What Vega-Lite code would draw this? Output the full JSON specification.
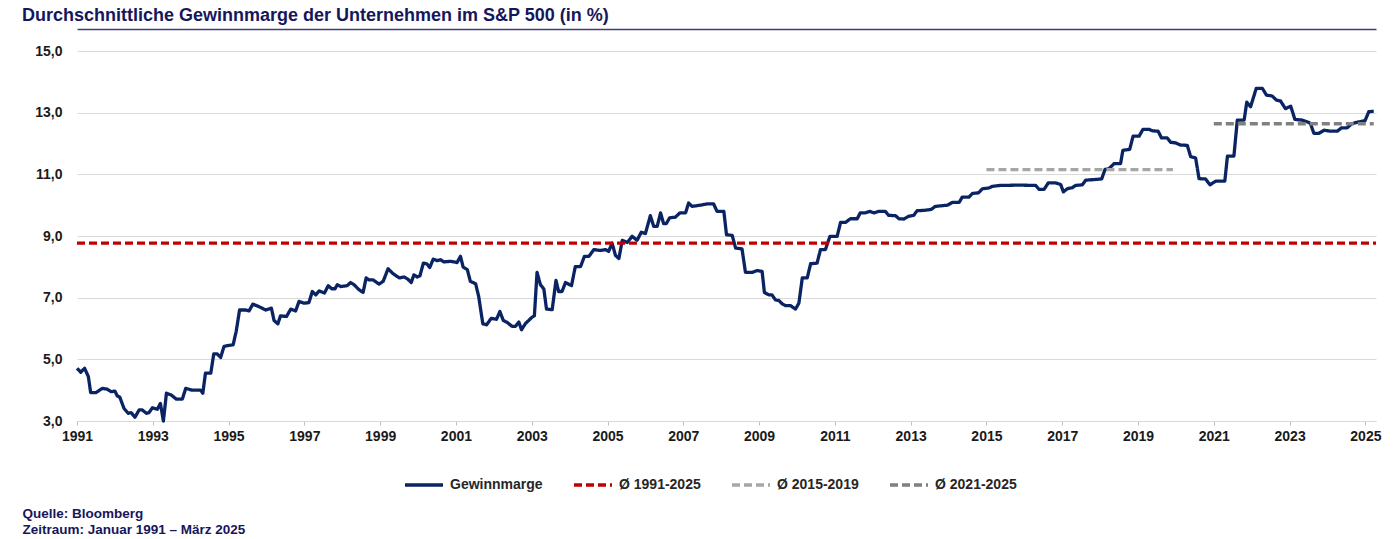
{
  "$schema": "https://vega.github.io/schema/vega-lite/v6.json",
  "autosize": {"type": "none"},
  "padding": {"left": 77, "top": 51, "right": 24, "bottom": 118},
  "width": 1299,
  "height": 370,
  "background": "white",
  "title": {
    "text": "Durchschnittliche Gewinnmarge der Unternehmen im S&P 500 (in %)",
    "anchor": "start",
    "frame": "group",
    "dx": -55,
    "offset": 4,
    "font": "Liberation Sans",
    "fontSize": 18,
    "fontWeight": "bold",
    "color": "#16165c"
  },
  "config": {
    "view": {"stroke": null},
    "font": "Liberation Sans"
  },
  "datasets": {
    "marge": [
      {"jahr": 1991.0, "wert": 4.71}, {"jahr": 1991.1, "wert": 4.58}, {"jahr": 1991.2, "wert": 4.71}, {"jahr": 1991.3, "wert": 4.44},
      {"jahr": 1991.36, "wert": 3.92}, {"jahr": 1991.5, "wert": 3.92}, {"jahr": 1991.67, "wert": 4.06}, {"jahr": 1991.8, "wert": 4.03},
      {"jahr": 1991.9, "wert": 3.95}, {"jahr": 1992.0, "wert": 3.97}, {"jahr": 1992.06, "wert": 3.82}, {"jahr": 1992.13, "wert": 3.77},
      {"jahr": 1992.24, "wert": 3.41}, {"jahr": 1992.35, "wert": 3.25}, {"jahr": 1992.43, "wert": 3.27}, {"jahr": 1992.53, "wert": 3.12},
      {"jahr": 1992.64, "wert": 3.36}, {"jahr": 1992.72, "wert": 3.36}, {"jahr": 1992.83, "wert": 3.25}, {"jahr": 1992.9, "wert": 3.27},
      {"jahr": 1992.99, "wert": 3.43}, {"jahr": 1993.12, "wert": 3.38}, {"jahr": 1993.2, "wert": 3.57}, {"jahr": 1993.28, "wert": 3.0},
      {"jahr": 1993.36, "wert": 3.9}, {"jahr": 1993.49, "wert": 3.84}, {"jahr": 1993.62, "wert": 3.71}, {"jahr": 1993.78, "wert": 3.71},
      {"jahr": 1993.87, "wert": 4.06}, {"jahr": 1994.04, "wert": 4.0}, {"jahr": 1994.26, "wert": 4.0}, {"jahr": 1994.32, "wert": 3.9},
      {"jahr": 1994.39, "wert": 4.55}, {"jahr": 1994.53, "wert": 4.55}, {"jahr": 1994.61, "wert": 5.18}, {"jahr": 1994.7, "wert": 5.18},
      {"jahr": 1994.79, "wert": 5.06}, {"jahr": 1994.88, "wert": 5.42}, {"jahr": 1995.0, "wert": 5.45}, {"jahr": 1995.12, "wert": 5.47},
      {"jahr": 1995.2, "wert": 5.9}, {"jahr": 1995.29, "wert": 6.6}, {"jahr": 1995.45, "wert": 6.6}, {"jahr": 1995.54, "wert": 6.57},
      {"jahr": 1995.64, "wert": 6.79}, {"jahr": 1995.8, "wert": 6.71}, {"jahr": 1995.98, "wert": 6.6}, {"jahr": 1996.13, "wert": 6.66},
      {"jahr": 1996.2, "wert": 6.26}, {"jahr": 1996.3, "wert": 6.15}, {"jahr": 1996.37, "wert": 6.41}, {"jahr": 1996.53, "wert": 6.39},
      {"jahr": 1996.64, "wert": 6.63}, {"jahr": 1996.77, "wert": 6.57}, {"jahr": 1996.86, "wert": 6.88}, {"jahr": 1996.99, "wert": 6.82},
      {"jahr": 1997.12, "wert": 6.84}, {"jahr": 1997.21, "wert": 7.2}, {"jahr": 1997.3, "wert": 7.09}, {"jahr": 1997.39, "wert": 7.22},
      {"jahr": 1997.53, "wert": 7.15}, {"jahr": 1997.63, "wert": 7.39}, {"jahr": 1997.72, "wert": 7.29}, {"jahr": 1997.81, "wert": 7.29},
      {"jahr": 1997.87, "wert": 7.42}, {"jahr": 1997.96, "wert": 7.36}, {"jahr": 1998.13, "wert": 7.39}, {"jahr": 1998.22, "wert": 7.49},
      {"jahr": 1998.31, "wert": 7.42}, {"jahr": 1998.44, "wert": 7.26}, {"jahr": 1998.55, "wert": 7.17}, {"jahr": 1998.63, "wert": 7.64},
      {"jahr": 1998.7, "wert": 7.58}, {"jahr": 1998.81, "wert": 7.58}, {"jahr": 1998.97, "wert": 7.44}, {"jahr": 1999.08, "wert": 7.53},
      {"jahr": 1999.21, "wert": 7.94}, {"jahr": 1999.32, "wert": 7.8}, {"jahr": 1999.41, "wert": 7.72}, {"jahr": 1999.51, "wert": 7.64},
      {"jahr": 1999.63, "wert": 7.67}, {"jahr": 1999.73, "wert": 7.6}, {"jahr": 1999.82, "wert": 7.49}, {"jahr": 1999.89, "wert": 7.74},
      {"jahr": 1999.98, "wert": 7.67}, {"jahr": 2000.05, "wert": 7.71}, {"jahr": 2000.14, "wert": 8.12}, {"jahr": 2000.23, "wert": 8.1},
      {"jahr": 2000.31, "wert": 7.98}, {"jahr": 2000.4, "wert": 8.25}, {"jahr": 2000.51, "wert": 8.2}, {"jahr": 2000.6, "wert": 8.23},
      {"jahr": 2000.68, "wert": 8.16}, {"jahr": 2000.86, "wert": 8.18}, {"jahr": 2001.03, "wert": 8.14}, {"jahr": 2001.12, "wert": 8.34},
      {"jahr": 2001.19, "wert": 7.99}, {"jahr": 2001.3, "wert": 7.91}, {"jahr": 2001.38, "wert": 7.53}, {"jahr": 2001.52, "wert": 7.45},
      {"jahr": 2001.6, "wert": 7.04}, {"jahr": 2001.71, "wert": 6.15}, {"jahr": 2001.81, "wert": 6.12}, {"jahr": 2001.93, "wert": 6.33},
      {"jahr": 2002.07, "wert": 6.3}, {"jahr": 2002.16, "wert": 6.55}, {"jahr": 2002.25, "wert": 6.26}, {"jahr": 2002.35, "wert": 6.2},
      {"jahr": 2002.48, "wert": 6.07}, {"jahr": 2002.57, "wert": 6.07}, {"jahr": 2002.66, "wert": 6.21}, {"jahr": 2002.73, "wert": 5.96},
      {"jahr": 2002.84, "wert": 6.17}, {"jahr": 2002.92, "wert": 6.26}, {"jahr": 2003.01, "wert": 6.37}, {"jahr": 2003.07, "wert": 6.41},
      {"jahr": 2003.14, "wert": 7.82}, {"jahr": 2003.23, "wert": 7.42}, {"jahr": 2003.32, "wert": 7.28}, {"jahr": 2003.39, "wert": 6.63},
      {"jahr": 2003.54, "wert": 6.61}, {"jahr": 2003.64, "wert": 7.56}, {"jahr": 2003.71, "wert": 7.2}, {"jahr": 2003.8, "wert": 7.2},
      {"jahr": 2003.89, "wert": 7.49}, {"jahr": 2004.05, "wert": 7.39}, {"jahr": 2004.15, "wert": 8.01}, {"jahr": 2004.29, "wert": 8.01},
      {"jahr": 2004.39, "wert": 8.34}, {"jahr": 2004.51, "wert": 8.34}, {"jahr": 2004.64, "wert": 8.56}, {"jahr": 2004.81, "wert": 8.53},
      {"jahr": 2004.95, "wert": 8.56}, {"jahr": 2005.03, "wert": 8.5}, {"jahr": 2005.12, "wert": 8.77}, {"jahr": 2005.21, "wert": 8.37},
      {"jahr": 2005.3, "wert": 8.27}, {"jahr": 2005.39, "wert": 8.86}, {"jahr": 2005.52, "wert": 8.79}, {"jahr": 2005.65, "wert": 8.99},
      {"jahr": 2005.78, "wert": 8.86}, {"jahr": 2005.89, "wert": 9.12}, {"jahr": 2006.0, "wert": 9.08}, {"jahr": 2006.13, "wert": 9.66},
      {"jahr": 2006.22, "wert": 9.31}, {"jahr": 2006.31, "wert": 9.31}, {"jahr": 2006.4, "wert": 9.75}, {"jahr": 2006.48, "wert": 9.4},
      {"jahr": 2006.55, "wert": 9.4}, {"jahr": 2006.64, "wert": 9.59}, {"jahr": 2006.79, "wert": 9.61}, {"jahr": 2006.91, "wert": 9.75},
      {"jahr": 2007.06, "wert": 9.75}, {"jahr": 2007.14, "wert": 10.07}, {"jahr": 2007.23, "wert": 9.96}, {"jahr": 2007.45, "wert": 10.0},
      {"jahr": 2007.63, "wert": 10.04}, {"jahr": 2007.8, "wert": 10.04}, {"jahr": 2007.89, "wert": 9.8}, {"jahr": 2008.07, "wert": 9.8},
      {"jahr": 2008.14, "wert": 9.04}, {"jahr": 2008.29, "wert": 9.02}, {"jahr": 2008.38, "wert": 8.61}, {"jahr": 2008.55, "wert": 8.58},
      {"jahr": 2008.64, "wert": 7.82}, {"jahr": 2008.82, "wert": 7.82}, {"jahr": 2008.95, "wert": 7.88}, {"jahr": 2009.08, "wert": 7.85},
      {"jahr": 2009.14, "wert": 7.17}, {"jahr": 2009.26, "wert": 7.09}, {"jahr": 2009.34, "wert": 7.09}, {"jahr": 2009.43, "wert": 6.93},
      {"jahr": 2009.52, "wert": 6.91}, {"jahr": 2009.61, "wert": 6.8}, {"jahr": 2009.7, "wert": 6.74}, {"jahr": 2009.83, "wert": 6.74},
      {"jahr": 2009.96, "wert": 6.63}, {"jahr": 2010.05, "wert": 6.82}, {"jahr": 2010.14, "wert": 7.64}, {"jahr": 2010.27, "wert": 7.64},
      {"jahr": 2010.36, "wert": 8.1}, {"jahr": 2010.53, "wert": 8.12}, {"jahr": 2010.62, "wert": 8.56}, {"jahr": 2010.75, "wert": 8.56},
      {"jahr": 2010.87, "wert": 8.99}, {"jahr": 2011.06, "wert": 8.99}, {"jahr": 2011.15, "wert": 9.44}, {"jahr": 2011.28, "wert": 9.44},
      {"jahr": 2011.41, "wert": 9.56}, {"jahr": 2011.59, "wert": 9.56}, {"jahr": 2011.67, "wert": 9.75}, {"jahr": 2011.8, "wert": 9.75},
      {"jahr": 2011.92, "wert": 9.8}, {"jahr": 2012.03, "wert": 9.75}, {"jahr": 2012.16, "wert": 9.8}, {"jahr": 2012.33, "wert": 9.8},
      {"jahr": 2012.42, "wert": 9.67}, {"jahr": 2012.6, "wert": 9.66}, {"jahr": 2012.69, "wert": 9.56}, {"jahr": 2012.82, "wert": 9.55},
      {"jahr": 2012.95, "wert": 9.64}, {"jahr": 2013.08, "wert": 9.67}, {"jahr": 2013.17, "wert": 9.82}, {"jahr": 2013.34, "wert": 9.83},
      {"jahr": 2013.54, "wert": 9.86}, {"jahr": 2013.65, "wert": 9.96}, {"jahr": 2013.97, "wert": 10.0}, {"jahr": 2014.1, "wert": 10.09},
      {"jahr": 2014.28, "wert": 10.09}, {"jahr": 2014.36, "wert": 10.26}, {"jahr": 2014.54, "wert": 10.26}, {"jahr": 2014.63, "wert": 10.38},
      {"jahr": 2014.79, "wert": 10.4}, {"jahr": 2014.89, "wert": 10.53}, {"jahr": 2015.07, "wert": 10.56}, {"jahr": 2015.15, "wert": 10.61},
      {"jahr": 2015.37, "wert": 10.64}, {"jahr": 2015.86, "wert": 10.65}, {"jahr": 2016.3, "wert": 10.64}, {"jahr": 2016.39, "wert": 10.51},
      {"jahr": 2016.52, "wert": 10.51}, {"jahr": 2016.63, "wert": 10.72}, {"jahr": 2016.83, "wert": 10.72}, {"jahr": 2016.96, "wert": 10.67},
      {"jahr": 2017.03, "wert": 10.43}, {"jahr": 2017.13, "wert": 10.53}, {"jahr": 2017.27, "wert": 10.57}, {"jahr": 2017.35, "wert": 10.64},
      {"jahr": 2017.53, "wert": 10.66}, {"jahr": 2017.62, "wert": 10.81}, {"jahr": 2017.84, "wert": 10.83}, {"jahr": 2018.04, "wert": 10.85},
      {"jahr": 2018.13, "wert": 11.16}, {"jahr": 2018.23, "wert": 11.18}, {"jahr": 2018.37, "wert": 11.35}, {"jahr": 2018.54, "wert": 11.35},
      {"jahr": 2018.6, "wert": 11.78}, {"jahr": 2018.78, "wert": 11.81}, {"jahr": 2018.87, "wert": 12.24}, {"jahr": 2019.03, "wert": 12.24},
      {"jahr": 2019.13, "wert": 12.46}, {"jahr": 2019.29, "wert": 12.46}, {"jahr": 2019.38, "wert": 12.41}, {"jahr": 2019.53, "wert": 12.4},
      {"jahr": 2019.62, "wert": 12.18}, {"jahr": 2019.77, "wert": 12.18}, {"jahr": 2019.86, "wert": 12.04}, {"jahr": 2019.99, "wert": 12.02},
      {"jahr": 2020.12, "wert": 11.95}, {"jahr": 2020.3, "wert": 11.94}, {"jahr": 2020.39, "wert": 11.57}, {"jahr": 2020.52, "wert": 11.53},
      {"jahr": 2020.61, "wert": 10.86}, {"jahr": 2020.78, "wert": 10.85}, {"jahr": 2020.9, "wert": 10.66}, {"jahr": 2021.05, "wert": 10.78},
      {"jahr": 2021.29, "wert": 10.78}, {"jahr": 2021.36, "wert": 11.59}, {"jahr": 2021.53, "wert": 11.59}, {"jahr": 2021.62, "wert": 12.76},
      {"jahr": 2021.8, "wert": 12.76}, {"jahr": 2021.87, "wert": 13.34}, {"jahr": 2021.97, "wert": 13.19}, {"jahr": 2022.12, "wert": 13.79},
      {"jahr": 2022.28, "wert": 13.79}, {"jahr": 2022.39, "wert": 13.57}, {"jahr": 2022.54, "wert": 13.54}, {"jahr": 2022.65, "wert": 13.41},
      {"jahr": 2022.76, "wert": 13.38}, {"jahr": 2022.89, "wert": 13.13}, {"jahr": 2023.03, "wert": 13.21}, {"jahr": 2023.14, "wert": 12.78},
      {"jahr": 2023.33, "wert": 12.76}, {"jahr": 2023.49, "wert": 12.69}, {"jahr": 2023.55, "wert": 12.65}, {"jahr": 2023.64, "wert": 12.33},
      {"jahr": 2023.77, "wert": 12.33}, {"jahr": 2023.91, "wert": 12.43}, {"jahr": 2024.08, "wert": 12.4}, {"jahr": 2024.26, "wert": 12.4},
      {"jahr": 2024.37, "wert": 12.51}, {"jahr": 2024.52, "wert": 12.51}, {"jahr": 2024.64, "wert": 12.64}, {"jahr": 2024.79, "wert": 12.69},
      {"jahr": 2024.99, "wert": 12.74}, {"jahr": 2025.09, "wert": 13.03}, {"jahr": 2025.22, "wert": 13.05}
    ],
    "schnitte": [
      {"jahr": 1991.0, "wert": 8.77, "serie": "Ø 1991-2025"},
      {"jahr": 2025.28, "wert": 8.77, "serie": "Ø 1991-2025"},
      {"jahr": 2015.0, "wert": 11.15, "serie": "Ø 2015-2019"},
      {"jahr": 2019.92, "wert": 11.15, "serie": "Ø 2015-2019"},
      {"jahr": 2021.0, "wert": 12.64, "serie": "Ø 2021-2025"},
      {"jahr": 2025.22, "wert": 12.64, "serie": "Ø 2021-2025"}
    ]
  },
  "resolve": {"axis": {"x": "independent"}},
  "layer": [
    {
      "data": {"name": "marge"},
      "transform": [{"calculate": "'Gewinnmarge'", "as": "serie"}],
      "mark": {"type": "line", "strokeWidth": 3.3, "strokeJoin": "round"},
      "encoding": {
        "x": {
          "field": "jahr", "type": "quantitative",
          "scale": {"domain": [1991, 2025.28], "nice": false, "zero": false},
          "axis": {
            "values": [1991, 1993, 1995, 1997, 1999, 2001, 2003, 2005, 2007, 2009, 2011, 2013, 2015, 2017, 2019, 2021, 2023, 2025],
            "format": "d",
            "grid": false,
            "domainColor": "#d9d9d9",
            "tickColor": "#bfbfbf",
            "tickSize": 4,
            "labelPadding": 4,
            "labelFlush": false,
            "labelFont": "Liberation Sans",
            "labelFontSize": 14,
            "labelFontWeight": "bold",
            "labelColor": "#1a1a1a",
            "labelOverlap": false,
            "title": ["Quelle: Bloomberg", "Zeitraum: Januar 1991 – März 2025"],
            "titleX": -55,
            "titleY": 96,
            "titleAlign": "left",
            "titleAnchor": "start",
            "titleBaseline": "alphabetic",
            "titleFont": "Liberation Sans",
            "titleFontSize": 13.5,
            "titleFontWeight": "bold",
            "titleColor": "#16165c",
            "titleLineHeight": 16
          }
        },
        "y": {
          "field": "wert", "type": "quantitative",
          "scale": {"domain": [3, 15], "nice": false, "zero": false},
          "axis": {
            "values": [3, 5, 7, 9, 11, 13, 15],
            "labelExpr": "replace(format(datum.value, '.1f'), '.', ',')",
            "domain": false,
            "ticks": false,
            "labelPadding": 15,
            "gridColor": "#d9d9d9",
            "gridWidth": 1,
            "labelFont": "Liberation Sans",
            "labelFontSize": 14,
            "labelFontWeight": "bold",
            "labelColor": "#1a1a1a",
            "title": null
          }
        },
        "color": {
          "field": "serie", "type": "nominal",
          "scale": {
            "domain": ["Gewinnmarge", "Ø 1991-2025", "Ø 2015-2019", "Ø 2021-2025"],
            "range": ["#0a2463", "#c00000", "#a6a6a6", "#808080"]
          },
          "legend": {
            "title": null, "orient": "none", "direction": "horizontal",
            "legendX": 326, "legendY": 413, "padding": 0,
            "symbolType": "stroke", "symbolSize": 1444, "symbolStrokeWidth": 3.3,
            "labelFont": "Liberation Sans", "labelFontSize": 14, "labelFontWeight": "bold",
            "labelColor": "#262626", "labelOffset": 5, "columnPadding": 24
          }
        },
        "strokeDash": {
          "field": "serie", "type": "nominal",
          "scale": {
            "domain": ["Gewinnmarge", "Ø 1991-2025", "Ø 2015-2019", "Ø 2021-2025"],
            "range": [[1, 0], [8, 4], [8, 4], [8, 4]]
          },
          "legend": {
            "title": null, "orient": "none", "direction": "horizontal",
            "legendX": 326, "legendY": 413, "padding": 0,
            "symbolType": "stroke", "symbolSize": 1444, "symbolStrokeWidth": 3.3,
            "labelFont": "Liberation Sans", "labelFontSize": 14, "labelFontWeight": "bold",
            "labelColor": "#262626", "labelOffset": 5, "columnPadding": 24
          }
        }
      }
    },
    {
      "data": {"name": "schnitte"},
      "mark": {"type": "line", "strokeWidth": 3.3},
      "encoding": {
        "x": {
          "field": "jahr", "type": "quantitative",
          "axis": {
            "orient": "top", "offset": 22, "labels": false, "ticks": false, "grid": false,
            "domainColor": "#3d3d80", "domainWidth": 1.5, "title": null
          }
        },
        "y": {"field": "wert", "type": "quantitative"},
        "color": {"field": "serie", "type": "nominal"},
        "strokeDash": {"field": "serie", "type": "nominal"}
      }
    }
  ]
}
